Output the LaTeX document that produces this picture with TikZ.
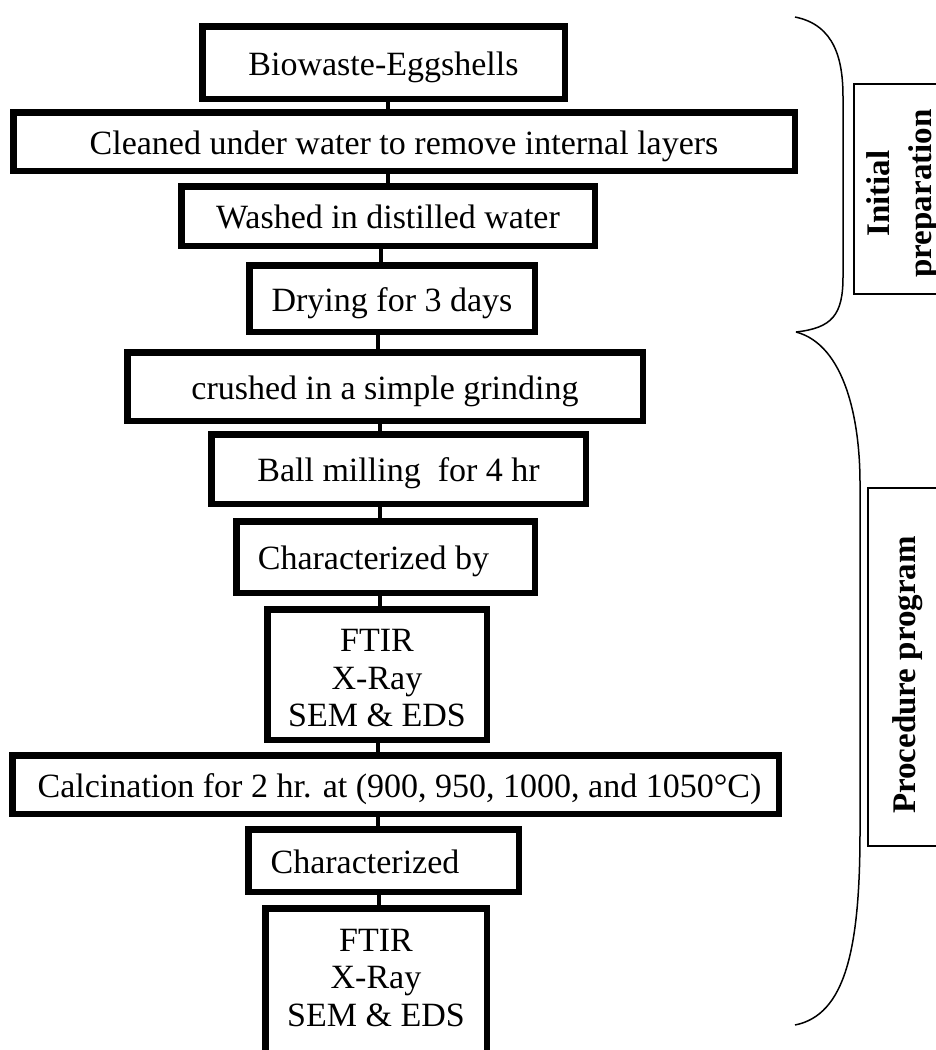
\documentclass[tikz,border=0pt]{standalone}
\usepackage{fontspec}
\setmainfont{Liberation Serif}
\begin{document}
\begin{tikzpicture}[x=1pt,y=-1pt,
  box/.style={draw, line width=6.5pt, inner sep=0pt, outer sep=3.25pt,
    font=\fontsize{34}{37.5}\selectfont, text height=32.3pt, text depth=7.1pt},
  mbox/.style={draw, line width=6.5pt, inner sep=0pt, outer sep=3.25pt,
    font=\fontsize{34}{37.5}\selectfont, align=center},
  side/.style={draw, line width=2pt, rotate=90, inner sep=0pt,
    font=\fontsize{33}{42}\selectfont\bfseries, align=center},
  link/.style={line width=4pt},
  brace/.style={line width=1.5pt}]
\useasboundingbox (0,0) rectangle (936,1050);
\clip (0,0) rectangle (936,1050);

% main flow
\node[box, minimum width=362.5pt, minimum height=72.5pt] (bio) at (383.5,62.5) {Biowaste-Eggshells};
\node[box, minimum width=781.5pt, minimum height=58.5pt] (clean) at (404,141.5) {Cleaned under water to remove internal layers};
\node[box, minimum width=413.5pt, minimum height=59.5pt] (wash) at (388,216) {Washed in distilled water};
\node[box, minimum width=285.5pt, minimum height=66.5pt] (dry) at (392,298.5) {Drying for 3 days};
\node[box, minimum width=515.5pt, minimum height=68.5pt] (crush) at (385,386.5) {crushed in a simple grinding};
\node[box, minimum width=374.5pt, minimum height=69.5pt] (ball) at (398.5,469) {Ball milling\ \ for 4 hr};
\node[box, minimum width=298.5pt, minimum height=71.5pt] (charby) at (385.5,557) {Characterized by\hspace*{24pt}};
\node[mbox, minimum width=219.5pt, minimum height=130.5pt] (ftir1) at (377,674.5) {\rule{0pt}{30pt}FTIR\\X-Ray\\SEM \& EDS};
\node[box, minimum width=766.5pt, minimum height=58.5pt] (calc) at (395.5,784.5) {\hspace*{8pt}Calcination for 2 hr. at (900, 950, 1000, and 1050°C)};
\node[box, minimum width=270.5pt, minimum height=62.5pt] (char) at (383.5,860.5) {Characterized\hspace*{37pt}};
\node[mbox, minimum width=221.5pt, minimum height=153.5pt] (ftir2) at (376,985) {\rule{0pt}{28pt}FTIR\\X-Ray\\SEM \& EDS\rule[-21pt]{0pt}{21pt}};

% connector positions
\coordinate (c1) at (388,0);
\coordinate (c2) at (381,0);
\coordinate (c3) at (378,0);
\coordinate (c4) at (380,0);
\coordinate (c5) at (377.5,0);
\coordinate (c6) at (379,0);

\draw[link] (bio.south -| c1) -- (clean.north -| c1);
\draw[link] (clean.south -| c1) -- (wash.north -| c1);
\draw[link] (wash.south -| c2) -- (dry.north -| c2);
\draw[link] (dry.south -| c3) -- (crush.north -| c3);
\draw[link] (crush.south -| c4) -- (ball.north -| c4);
\draw[link] (ball.south -| c4) -- (charby.north -| c4);
\draw[link] (charby.south -| c4) -- (ftir1.north -| c4);
\draw[link] (ftir1.south -| c5) -- (calc.north -| c5);
\draw[link] (calc.south -| c5) -- (char.north -| c5);
\draw[link] (char.south -| c6) -- (ftir2.north -| c6);

% braces
\draw[brace] (795,17) .. controls (835,25) and (843,60) .. (843,97) -- (843,277)
  .. controls (843,315) and (832,328) .. (796,332);
\draw[brace] (796,332) .. controls (845,345) and (860,420) .. (860,483) -- (860,832)
  .. controls (860,950) and (845,1015) .. (795,1025);

% side labels
\node[side, minimum width=210pt, minimum height=99pt] (init) at (903,189) {Initial\hspace*{9pt}\\preparation\hspace*{9pt}};
\node[side, minimum width=358pt, minimum height=80pt] (proc) at (908,667) {Procedure program\hspace*{16pt}};
\end{tikzpicture}
\end{document}
